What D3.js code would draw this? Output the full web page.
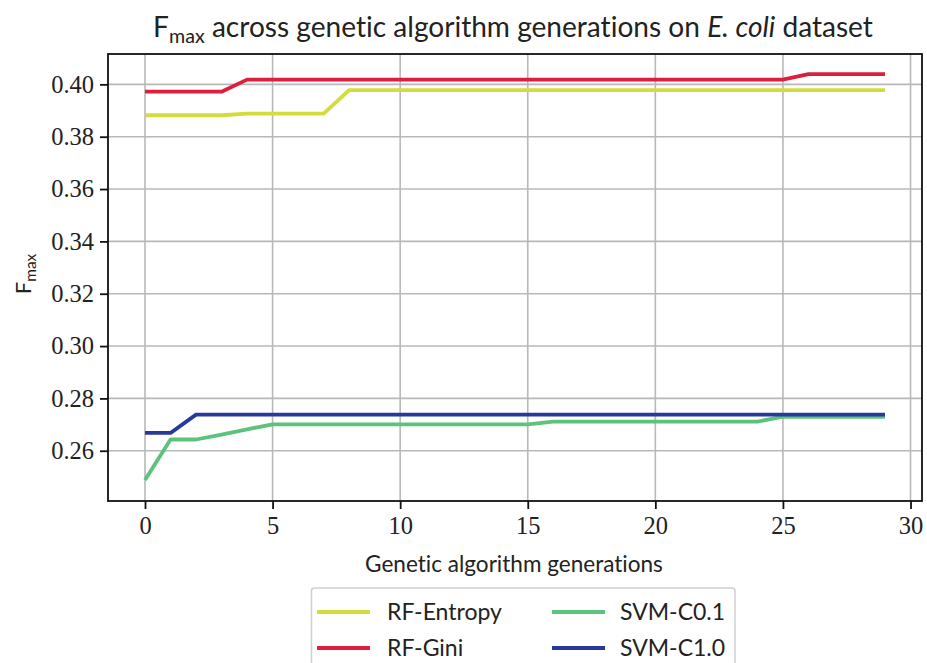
<!DOCTYPE html>
<html>
<head>
<meta charset="utf-8">
<script src="https://cdn.jsdelivr.net/npm/d3@7/dist/d3.min.js"></script>
<style>
  html, body { margin: 0; padding: 0; background: #fff; }
  svg { display: block; }
  text { font-variant-ligatures: none; font-feature-settings: "liga" 0, "clig" 0; }
</style>
</head>
<body>
<svg id="chart" width="927" height="663"></svg>
<script>
// ---- data ----
const generations = d3.range(0, 30);
const rfEntropy = [0.3882, 0.3882, 0.3882, 0.3882, 0.3888, 0.3888, 0.3888, 0.3888,
  0.3978, 0.3978, 0.3978, 0.3978, 0.3978, 0.3978, 0.3978, 0.3978, 0.3978, 0.3978, 0.3978, 0.3978,
  0.3978, 0.3978, 0.3978, 0.3978, 0.3978, 0.3978, 0.3978, 0.3978, 0.3978, 0.3978];
const rfGini = [0.3972, 0.3972, 0.3972, 0.3972, 0.4018, 0.4018, 0.4018, 0.4018, 0.4018, 0.4018,
  0.4018, 0.4018, 0.4018, 0.4018, 0.4018, 0.4018, 0.4018, 0.4018, 0.4018, 0.4018,
  0.4018, 0.4018, 0.4018, 0.4018, 0.4018, 0.4018, 0.4039, 0.4039, 0.4039, 0.4039];
const svmC01 = [0.2488, 0.2643, 0.2643, 0.2662, 0.2682, 0.2701, 0.2701, 0.2701, 0.2701, 0.2701,
  0.2701, 0.2701, 0.2701, 0.2701, 0.2701, 0.2701, 0.2711, 0.2711, 0.2711, 0.2711,
  0.2711, 0.2711, 0.2711, 0.2711, 0.2711, 0.2730, 0.2730, 0.2730, 0.2730, 0.2730];
const svmC10 = [0.2668, 0.2668, 0.2738, 0.2738, 0.2738, 0.2738, 0.2738, 0.2738, 0.2738, 0.2738,
  0.2738, 0.2738, 0.2738, 0.2738, 0.2738, 0.2738, 0.2738, 0.2738, 0.2738, 0.2738,
  0.2738, 0.2738, 0.2738, 0.2738, 0.2738, 0.2738, 0.2738, 0.2738, 0.2738, 0.2738];
const seriesNames = ["RF-Entropy", "RF-Gini", "SVM-C0.1", "SVM-C1.0"];
const seriesColors = ["#d3dc3c", "#dc1f3e", "#5dc37c", "#29399b"];
const xTicks = [0, 5, 10, 15, 20, 25, 30];
const yTicks = [0.26, 0.28, 0.30, 0.32, 0.34, 0.36, 0.38, 0.40];

const series = [rfEntropy, rfGini, svmC01, svmC10].map((vals, i) => ({
  name: seriesNames[i], color: seriesColors[i],
  points: generations.map((g, j) => [g, vals[j]])
}));

// ---- layout ----
const svg = d3.select("#chart");
const L = 108, R = 922, T = 54, B = 501;
const x = d3.scaleLinear().domain([-1.45, 30.45]).range([L, R]);
const y = d3.scaleLinear().domain([0.2408, 0.4116]).range([B, T]);

const sans = "Lato, 'DejaVu Sans', sans-serif";
const serif = "'Liberation Serif', 'DejaVu Serif', serif";

// grid
const grid = svg.append("g");
grid.selectAll(".gx").data(xTicks.filter(t => x(t) <= R)).enter().append("line")
  .attr("x1", d => x(d)).attr("x2", d => x(d)).attr("y1", T).attr("y2", B)
  .attr("stroke", "#b8b8b8").attr("stroke-width", 1.6);
grid.selectAll(".gy").data(yTicks).enter().append("line")
  .attr("x1", L).attr("x2", R).attr("y1", d => y(d)).attr("y2", d => y(d))
  .attr("stroke", "#b8b8b8").attr("stroke-width", 1.6);

// lines
const line = d3.line().x(d => x(d[0])).y(d => y(d[1]));
svg.append("g").selectAll("path").data(series).enter().append("path")
  .attr("d", d => line(d.points))
  .attr("fill", "none").attr("stroke", d => d.color)
  .attr("stroke-width", 3.8).attr("stroke-linejoin", "round").attr("stroke-linecap", "butt");

// axes
const xAxis = svg.append("g").attr("transform", `translate(0,${B})`)
  .call(d3.axisBottom(x).tickValues(xTicks).tickFormat(d3.format("d")).tickSizeOuter(0).tickSize(8).tickPadding(8));
const yAxis = svg.append("g").attr("transform", `translate(${L},0)`)
  .call(d3.axisLeft(y).tickValues(yTicks).tickFormat(d3.format(".2f")).tickSizeOuter(0).tickSize(8).tickPadding(6));
[xAxis, yAxis].forEach(a => {
  a.select(".domain").remove();
  a.selectAll(".tick line").attr("stroke", "#111").attr("stroke-width", 1.8);
  a.selectAll(".tick text").attr("fill", "#222").style("font-family", serif).style("font-size", "24.5px");
});

// frame
svg.append("rect").attr("x", L).attr("y", T).attr("width", R - L).attr("height", B - T)
  .attr("fill", "none").attr("stroke", "#111").attr("stroke-width", 1.8);

// fit helper
function fitWidth(sel, target) {
  const fs = parseFloat(sel.style("font-size"));
  const w = sel.node().getComputedTextLength();
  const nfs = fs * target / w;
  sel.style("font-size", nfs + "px");
  return nfs;
}

// title
const title = svg.append("text").attr("x", 513).attr("y", 37).attr("text-anchor", "middle")
  .attr("fill", "#222").style("font-family", sans).style("font-size", "26px");
title.append("tspan").text("F");
title.append("tspan").attr("dy", 6).style("font-size", "0.7em").text("max");
title.append("tspan").attr("dy", -6).text(" across genetic algorithm generations on ");
title.append("tspan").style("font-style", "italic").text("E. coli");
title.append("tspan").text(" dataset");
fitWidth(title, 720);

// x label
const xl = svg.append("text").attr("x", 514).attr("y", 572).attr("text-anchor", "middle")
  .attr("fill", "#222").style("font-family", sans).style("font-size", "20px")
  .text("Genetic algorithm generations");
fitWidth(xl, 298);

// y label
const yl = svg.append("text").attr("transform", "translate(31,274) rotate(-90)")
  .attr("text-anchor", "middle").attr("fill", "#222").style("font-family", sans).style("font-size", "22px");
yl.append("tspan").text("F");
yl.append("tspan").attr("dy", 5).style("font-size", "0.7em").text("max");

// legend
const lg = svg.append("g");
lg.append("rect").attr("x", 311.5).attr("y", 588).attr("width", 423.5).attr("height", 90)
  .attr("rx", 3).attr("fill", "#fff").attr("stroke", "#cfcfcf").attr("stroke-width", 1.5);
const legendPos = [
  { hx: 317, tx: 387, ty: 612 },
  { hx: 317, tx: 387, ty: 648 },
  { hx: 552, tx: 620, ty: 612 },
  { hx: 552, tx: 620, ty: 648 }
];
let legendFs = null;
series.forEach((s, i) => {
  const p = legendPos[i];
  lg.append("line").attr("x1", p.hx).attr("x2", p.hx + 53).attr("y1", p.ty).attr("y2", p.ty)
    .attr("stroke", s.color).attr("stroke-width", 3.8);
  const t = lg.append("text").attr("x", p.tx).attr("y", p.ty).attr("dy", "0.36em")
    .attr("fill", "#222").style("font-family", sans).style("font-size", (legendFs || 22) + "px").text(s.name);
  if (i === 0) legendFs = fitWidth(t, 115);
});
</script>
</body>
</html>
